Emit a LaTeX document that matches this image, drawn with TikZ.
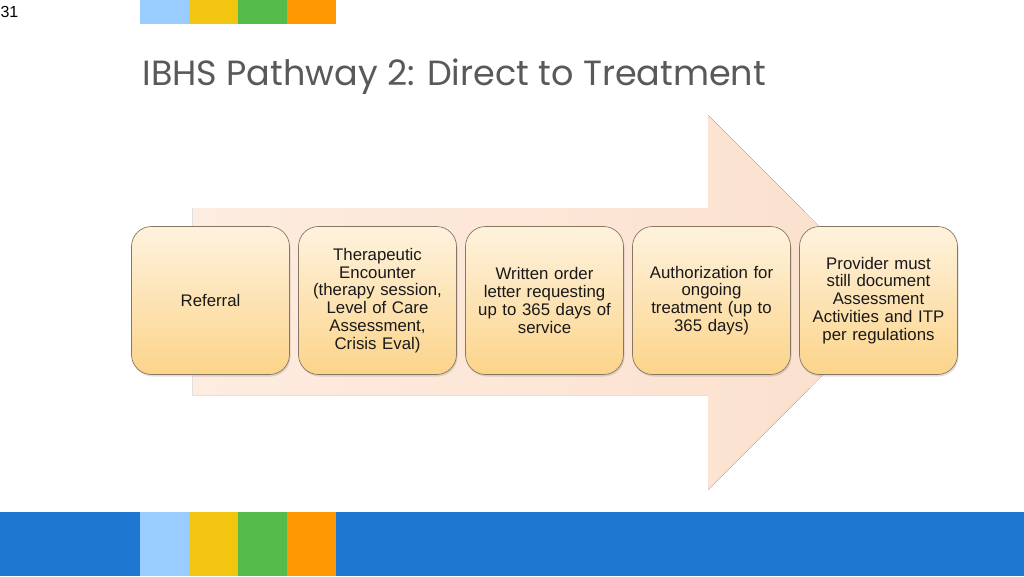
\documentclass[tikz,border=0pt]{standalone}
\usepackage{fontspec}
\setmainfont{Liberation Sans}
\newfontfamily\titlefont{Poppins}
\usetikzlibrary{positioning,shadows}
\definecolor{BarBlue}{RGB}{30,120,210}
\definecolor{PaleBlue}{RGB}{153,204,255}
\definecolor{SunYellow}{RGB}{242,197,17}
\definecolor{LeafGreen}{RGB}{85,187,74}
\definecolor{DeepOrange}{RGB}{255,152,0}
\definecolor{Peach}{RGB}{251,224,205}
\definecolor{PeachLight}{RGB}{253,236,224}
\definecolor{BoxTop}{RGB}{254,242,222}
\definecolor{BoxBottom}{RGB}{252,212,138}
\definecolor{BoxEdge}{RGB}{135,118,96}

\tikzset{
	stepbox/.style={rounded corners=20pt, draw=BoxEdge, line width=0.7pt, outer sep=0pt,
		top color=BoxTop, bottom color=BoxBottom,
		minimum width=158pt, minimum height=148pt, text width=145pt, align=center,
		font=\fontsize{16.8}{17.9}\selectfont, text=black!90,
		drop shadow={shadow xshift=1pt, shadow yshift=-2pt, opacity=0.25}}
}

\begin{document}
\begin{tikzpicture}[x=1pt, y=-1pt, node distance=9pt]
	\useasboundingbox (0,0) rectangle (1024,576);
	\fill[white] (0,0) rectangle (1024,576);

	% slide number and colour strips
	\node[anchor=west, font=\fontsize{16}{16}\selectfont] (slidenum) at (-3,12) {31};
	\foreach \c [count=\i from 0] in {PaleBlue,SunYellow,LeafGreen,DeepOrange} {
		\fill[\c] (140+49*\i,0) rectangle (189+49*\i,24);
	}
	\fill[BarBlue] (0,512) rectangle (1024,576);
	\foreach \c [count=\i from 0] in {PaleBlue,SunYellow,LeafGreen,DeepOrange} {
		\fill[\c] (140+49*\i,512) rectangle (189+49*\i,576);
	}

	\node[anchor=base west, font=\titlefont\fontsize{35}{35}\selectfont, text=black!65] (title) at (139,85)
		{IBHS Pathway 2: Direct to Treatment};

	% big arrow
	\fill[left color=PeachLight, right color=Peach]
		(192,208) -- (708,208) -- (708,115) -- (895,302.5) -- (708,490) -- (708,395) -- (192,395) -- cycle;
	\draw[black!12, line width=1pt] (192.5,208) -- (192.5,395);

	% steps
	\node[stepbox] (referral) at (210.5,300.5) {Referral};
	\node[stepbox, right=of referral] (encounter) {Therapeutic\\Encounter\\(therapy session,\\Level of Care\\Assessment,\\Crisis Eval)};
	\node[stepbox, right=of encounter] (order) {Written order\\letter requesting\\up to 365 days of\\service};
	\node[stepbox, right=of order] (auth) {Authorization for\\ongoing\\treatment (up to\\365 days)};
	\node[stepbox, right=of auth] (provider) {Provider must\\still document\\Assessment\\Activities and ITP\\per regulations};
\end{tikzpicture}
\end{document}
